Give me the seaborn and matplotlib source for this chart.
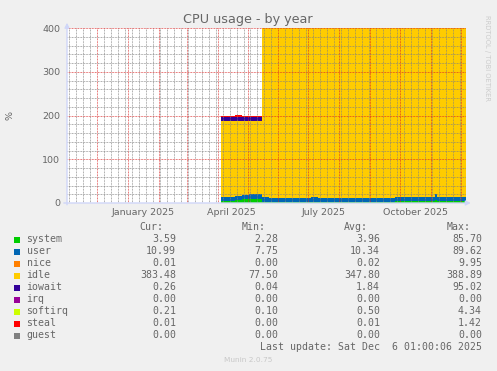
import matplotlib
matplotlib.use("Agg")
import matplotlib.pyplot as plt
import matplotlib.dates as mdates
import matplotlib.transforms as mtransforms
from matplotlib.patches import Rectangle
from matplotlib.ticker import MultipleLocator
import numpy as np
import pandas as pd
import seaborn as sns

# ---------------- data ----------------
starts = ["2025-04-04", "2025-04-11", "2025-04-18", "2025-04-25", "2025-05-02", "2025-05-09",
          "2025-05-16", "2025-05-23", "2025-05-30", "2025-06-06", "2025-06-13", "2025-06-20", "2025-06-27",
          "2025-07-04", "2025-07-11", "2025-07-18", "2025-07-25", "2025-08-01", "2025-08-08", "2025-08-15",
          "2025-08-22", "2025-08-29", "2025-09-05", "2025-09-12", "2025-09-19", "2025-09-26", "2025-10-03",
          "2025-10-10", "2025-10-17", "2025-10-24", "2025-10-31", "2025-11-05", "2025-11-07", "2025-11-14",
          "2025-11-21", "2025-11-28", "2025-12-05"]
end_date = "2025-12-06 01:00"

system = [4.5, 4.5, 6.5, 8.5, 9.5, 10.0,
          2.0, 1.8, 2.0, 2.0, 2.0, 2.2, 3.0,
          3.0, 3.0, 3.0, 3.0, 3.0, 3.0, 3.2,
          3.2, 3.2, 3.2, 3.2, 3.2, 3.5, 3.5,
          3.5, 3.5, 3.5, 3.5, 6.0, 3.5, 3.5,
          3.6, 3.6, 3.6]
user = [9.9, 9.9, 10.5, 10.0, 11.0, 11.0,
        11.0, 10.7, 10.0, 10.5, 10.0, 9.8, 9.5,
        10.0, 9.5, 9.5, 9.5, 9.0, 9.0, 8.8,
        8.8, 8.8, 8.8, 8.8, 9.3, 9.5, 10.9,
        10.9, 10.9, 10.9, 10.9, 14.0, 11.0, 11.0,
        10.9, 10.9, 11.0]
nice = [0.0, 0.0, 0.0, 0.0, 0.0, 0.0,
        0.0, 0.0, 0.0, 0.0, 0.0, 0.0, 0.0,
        0.0, 0.0, 0.0, 0.0, 0.0, 0.0, 0.0,
        0.0, 0.0, 0.0, 0.0, 0.0, 0.0, 0.0,
        0.0, 0.0, 0.0, 0.0, 0.0, 0.0, 0.0,
        0.0, 0.0, 0.0]
idle = [174.1, 174.1, 171.5, 170.0, 168.0, 167.5,
        386.0, 386.5, 387.0, 386.5, 387.0, 387.0, 386.5,
        386.0, 386.5, 386.5, 386.5, 387.0, 387.0, 387.0,
        387.0, 387.0, 387.0, 387.0, 386.5, 386.0, 384.6,
        384.6, 384.6, 384.6, 384.6, 379.0, 384.5, 384.5,
        384.5, 384.5, 384.4]
iowait = [8.5, 8.5, 8.5, 8.5, 8.5, 8.5,
          0.8, 0.8, 0.8, 0.8, 0.8, 0.8, 0.8,
          0.8, 0.8, 0.8, 0.8, 0.8, 0.8, 0.8,
          0.8, 0.8, 0.8, 0.8, 0.8, 0.8, 0.8,
          0.8, 0.8, 0.8, 0.8, 0.8, 0.8, 0.8,
          0.8, 0.8, 0.8]
irq = [0.0] * 37
softirq = [0.5, 0.5, 0.5, 0.5, 0.5, 0.5,
           0.2, 0.2, 0.2, 0.2, 0.2, 0.2, 0.2,
           0.2, 0.2, 0.2, 0.2, 0.2, 0.2, 0.2,
           0.2, 0.2, 0.2, 0.2, 0.2, 0.2, 0.2,
           0.2, 0.2, 0.2, 0.2, 0.2, 0.2, 0.2,
           0.2, 0.2, 0.2]
steal = [2.5, 2.5, 2.5, 2.5, 2.5, 2.5,
         0.0, 0.0, 0.0, 0.0, 0.0, 0.0, 0.0,
         0.0, 0.0, 0.0, 0.0, 0.0, 0.0, 0.0,
         0.0, 0.0, 0.0, 0.0, 0.0, 0.0, 0.0,
         0.0, 0.0, 0.0, 0.0, 0.0, 0.0, 0.0,
         0.0, 0.0, 0.0]
guest = [0.0] * 37

names = ["system", "user", "nice", "idle", "iowait", "irq", "softirq", "steal", "guest"]
series = [system, user, nice, idle, iowait, irq, softirq, steal, guest]
colors = ["#00CC00", "#0066B3", "#FF8000", "#FFCC00", "#330099", "#990099", "#CCFF00", "#FF0000", "#808080"]

cur = ["3.59", "10.99", "0.01", "383.48", "0.26", "0.00", "0.21", "0.01", "0.00"]
mins = ["2.28", "7.75", "0.00", "77.50", "0.04", "0.00", "0.10", "0.00", "0.00"]
avgs = ["3.96", "10.34", "0.02", "347.80", "1.84", "0.00", "0.50", "0.01", "0.00"]
maxs = ["85.70", "89.62", "9.95", "388.89", "95.02", "0.00", "4.34", "1.42", "0.00"]

xlabels = ["January 2025", "April 2025", "July 2025", "October 2025"]
xlabel_at = ["2025-01-16", "2025-04-15", "2025-07-16", "2025-10-16"]
x_range = ["2024-11-01 01:00", "2025-12-06 01:00"]
yticks = [0, 100, 200, 300, 400]

title = "CPU usage - by year"
last_update = "Last update: Sat Dec  6 01:00:06 2025"

# ---------------- build table ----------------
edges = [float(v) for v in mdates.date2num(pd.to_datetime(starts + [end_date], format="mixed"))]
mids = [(a + b) / 2 for a, b in zip(edges[:-1], edges[1:])]
rows = []
for n, vals in zip(names, series):
    for m, v in zip(mids, vals):
        rows.append({"t": m, "v": v, "series": n})
df = pd.DataFrame(rows)

# ---------------- style ----------------
sns.set_theme(style="white")
plt.rcParams["font.family"] = ["DejaVu Sans"]
FONT = "#666666"
AXC = "#CFD6F8"
W, H = 497, 371

fig = plt.figure(figsize=(W / 100, H / 100), dpi=100, facecolor="#F0F0F0")
L, R, T, B = 67, 466, 28, 203
ax = fig.add_axes([L / W, 1 - B / H, (R - L) / W, (B - T) / H])
ax.set_facecolor("white")

def fx(x):
    return x / W

def fy(y):
    return 1 - y / H

sns.histplot(data=df, x="t", weights="v", hue="series", hue_order=names[::-1],
             palette=dict(zip(names, colors)), multiple="stack", element="step",
             fill=True, bins=edges, linewidth=0, alpha=1, legend=False, ax=ax)

ax.set_xlim(mdates.date2num(pd.Timestamp(x_range[0])), mdates.date2num(pd.Timestamp(x_range[1])))
ax.set_ylim(0, 400)
ax.set_xlabel("")
ax.set_ylabel("")

# grid
ax.xaxis.set_major_locator(mdates.MonthLocator())
ax.xaxis.set_minor_locator(mdates.WeekdayLocator(byweekday=mdates.SU))
ax.yaxis.set_major_locator(MultipleLocator(100))
ax.yaxis.set_minor_locator(MultipleLocator(20))
ax.set_axisbelow(False)
ax.grid(which="minor", color=(0.5, 0.5, 0.5, 0.18), linestyle=(0, (1, 1)), linewidth=0.55)
ax.grid(which="major", color=(0.85, 0.15, 0.15, 0.26), linestyle=(0, (1, 1)), linewidth=0.55)

for s in ax.spines.values():
    s.set_visible(False)

ax.tick_params(axis="x", which="major", length=2, width=0.8, color=AXC, labelbottom=False, direction="out")
ax.tick_params(axis="x", which="minor", length=0)
ax.tick_params(axis="y", which="both", length=0)
ax.set_yticks(yticks)
ax.set_yticklabels([str(v) for v in yticks], fontsize=6.8, color=FONT)
ax.tick_params(axis="y", pad=5)

# axis lines with arrows
ax.annotate("", xy=(1.012, 0), xytext=(-0.008, 0), xycoords="axes fraction",
            arrowprops=dict(arrowstyle="-|>", color=AXC, lw=1.0, mutation_scale=7, shrinkA=0, shrinkB=0))
ax.annotate("", xy=(0, 1.03), xytext=(0, -0.01), xycoords="axes fraction",
            arrowprops=dict(arrowstyle="-|>", color=AXC, lw=1.0, mutation_scale=7, shrinkA=0, shrinkB=0))

# x labels
trans = mtransforms.blended_transform_factory(ax.transData, fig.transFigure)
for lab, d in zip(xlabels, xlabel_at):
    ax.text(mdates.date2num(pd.Timestamp(d)), fy(212.5), lab, transform=trans,
            ha="center", va="center", fontsize=6.8, color=FONT)

# titles & side texts
fig.text(fx(248), fy(19), title, ha="center", va="center", fontsize=9.2, color=FONT)
fig.text(fx(10), fy(115), "%", ha="center", va="center", rotation=90, fontsize=6.8, color=FONT)
fig.text(fx(487), fy(15), "RRDTOOL / TOBI OETIKER", ha="center", va="top", rotation=270,
         fontsize=4.9, color="#CCCCCC")

# legend table
mono = "DejaVu Sans Mono"
LFS = 7.1
hdr_y = 230.5
for lab, xr in zip(["Cur:", "Min:", "Avg:", "Max:"], [163.5, 266, 368, 470.5]):
    fig.text(fx(xr), fy(hdr_y), lab, ha="right", va="baseline", family=mono, fontsize=LFS, color=FONT)
for i, n in enumerate(names):
    yb = 242.5 + 12 * i
    fig.patches.append(Rectangle((fx(14), fy(yb + 0.8)), 6 / W, 6 / H, transform=fig.transFigure,
                                 facecolor=colors[i], edgecolor="none"))
    fig.text(fx(26.5), fy(yb), n, ha="left", va="baseline", family=mono, fontsize=LFS, color=FONT)
    for val, xr in zip([cur[i], mins[i], avgs[i], maxs[i]], [176, 278, 380, 482]):
        fig.text(fx(xr), fy(yb), val, ha="right", va="baseline", family=mono, fontsize=LFS, color=FONT)
fig.text(fx(482), fy(242.5 + 12 * 9 - 0.5), last_update, ha="right", va="baseline",
         family=mono, fontsize=LFS, color=FONT)
fig.text(fx(248), fy(359.5), "Munin 2.0.75", ha="center", va="center", fontsize=5.3, color="#C8C8C8")

fig.savefig("out.png", dpi=100, facecolor=fig.get_facecolor())
